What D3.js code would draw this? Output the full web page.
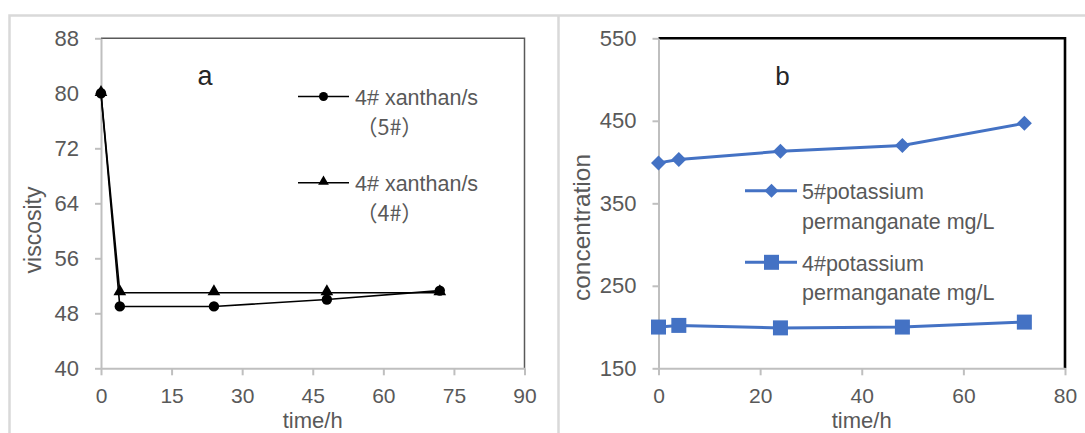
<!DOCTYPE html>
<html>
<head>
<meta charset="utf-8">
<script src="https://cdn.jsdelivr.net/npm/d3@7"></script>
<style>
  body { margin: 0; background: #fff; }
  svg { display: block; font-family: "Liberation Sans", Arial, "Noto Sans CJK SC", sans-serif; }
</style>
</head>
<body>
<svg id="chart" width="1085" height="433"></svg>
<script>
// ---- Data ----
const timeA = [0, 4, 24, 48, 72];
const xanthan5 = [80, 49, 49, 50, 51.3];
const xanthan4 = [80, 51, 51, 51, 51];
const xTicksA = [0, 15, 30, 45, 60, 75, 90];
const yTicksA = [40, 48, 56, 64, 72, 80, 88];

const timeB = [0, 4, 24, 48, 72];
const kmno5 = [399, 403, 413, 420, 447];
const kmno4 = [200, 202, 199, 200, 206];
const xTicksB = [0, 20, 40, 60, 80];
const yTicksB = [150, 250, 350, 450, 550];

const svg = d3.select("#chart");
const GRAY_TXT = "#595959";
const AXIS = "#bfbfbf";

// outer frames
svg.append("path")
  .attr("d", "M9.5,440 V15.5 H1090 M558.5,15.5 V440")
  .attr("fill", "none").attr("stroke", "#d9d9d9").attr("stroke-width", 2.5);

function drawAxes(g, x, y, xTicks, yTicks, frameColor, frameWidth) {
  const [x0, x1] = x.range();
  const [y0, y1] = y.range();
  g.append("path")
    .attr("d", `M${x0},${y1} H${x1} V${y0}`)
    .attr("fill", "none").attr("stroke", frameColor).attr("stroke-width", frameWidth);
  const xa = g.append("g").attr("transform", `translate(0,${y0})`)
    .call(d3.axisBottom(x).tickValues(xTicks).tickSize(7).tickSizeOuter(0).tickPadding(13));
  const ya = g.append("g").attr("transform", `translate(${x0},0)`)
    .call(d3.axisLeft(y).tickValues(yTicks).tickSize(6).tickSizeOuter(0).tickPadding(16));
  [xa, ya].forEach(a => {
    a.select(".domain").attr("stroke", AXIS).attr("stroke-width", 2);
    a.selectAll(".tick line").attr("stroke", AXIS).attr("stroke-width", 2);
    a.selectAll(".tick text").attr("fill", GRAY_TXT).attr("font-size", 22)
      .attr("font-family", "Liberation Sans, Arial, sans-serif");
  });
  xa.selectAll(".tick text").attr("font-size", 21).attr("dy", "0.71em");
}

// ---------------- Panel a ----------------
const xA = d3.scaleLinear().domain([0, 90]).range([101, 524.5]);
const yA = d3.scaleLinear().domain([40, 88]).range([368.3, 38.3]);
const gA = svg.append("g");
drawAxes(gA, xA, yA, xTicksA, yTicksA, "#595959", 1.5);

const lineA = d3.line().x(d => xA(d[0])).y(d => yA(d[1]));
const tri = d3.symbol().type(d3.symbolTriangle);

gA.append("path").datum(timeA.map((t, i) => [t, xanthan4[i]]))
  .attr("d", lineA).attr("fill", "none").attr("stroke", "#000").attr("stroke-width", 1.6);
gA.append("path").datum(timeA.map((t, i) => [t, xanthan5[i]]))
  .attr("d", lineA).attr("fill", "none").attr("stroke", "#000").attr("stroke-width", 1.6);
gA.selectAll(".tri").data(timeA.map((t, i) => [t, xanthan4[i]])).join("path")
  .attr("d", tri.size(70)())
  .attr("transform", d => `translate(${xA(d[0])},${yA(d[1]) - 1})`)
  .attr("fill", "#000");
gA.selectAll(".circ").data(timeA.map((t, i) => [t, xanthan5[i]])).join("circle")
  .attr("cx", d => xA(d[0])).attr("cy", d => yA(d[1])).attr("r", 5.2).attr("fill", "#000");

gA.append("text").attr("x", 205).attr("y", 85).attr("text-anchor", "middle")
  .attr("font-size", 27).attr("fill", "#262626").text("a");

const legA = [
  { y: 96.5, sym: "circle", l1: "4# xanthan/s", l2: "（5#）" },
  { y: 182.7, sym: "tri", l1: "4# xanthan/s", l2: "（4#）" }
];
legA.forEach(e => {
  gA.append("line").attr("x1", 298).attr("x2", 349).attr("y1", e.y).attr("y2", e.y)
    .attr("stroke", "#000").attr("stroke-width", 1.6);
  if (e.sym === "circle") {
    gA.append("circle").attr("cx", 323.5).attr("cy", e.y).attr("r", 4.5).attr("fill", "#000");
  } else {
    gA.append("path").attr("d", tri.size(50)()).attr("transform", `translate(323.5,${e.y - 1})`).attr("fill", "#000");
  }
  gA.append("text").attr("x", 355).attr("y", e.y + 8.5).attr("font-size", 21.5)
    .attr("fill", GRAY_TXT).text(e.l1);
  gA.append("text").attr("x", 356).attr("y", e.y + 38.5).attr("font-size", 21.5)
    .attr("font-family", "Noto Sans CJK SC, Liberation Sans, sans-serif")
    .attr("fill", GRAY_TXT).text(e.l2);
});

gA.append("text").attr("x", 312.7).attr("y", 428).attr("text-anchor", "middle")
  .attr("font-size", 22).attr("fill", GRAY_TXT).text("time/h");
gA.append("text").attr("transform", "translate(41,230) rotate(-90)").attr("text-anchor", "middle")
  .attr("font-size", 23).attr("fill", GRAY_TXT).text("viscosity");

// ---------------- Panel b ----------------
const xB = d3.scaleLinear().domain([0, 80]).range([658.5, 1065]);
const yB = d3.scaleLinear().domain([150, 550]).range([368.3, 38.3]);
const gB = svg.append("g");
drawAxes(gB, xB, yB, xTicksB, yTicksB, "#000", 2.6);

const BLUE = "#4472C4";
const lineB = d3.line().x(d => xB(d[0])).y(d => yB(d[1]));

gB.append("path").datum(timeB.map((t, i) => [t, kmno5[i]]))
  .attr("d", lineB).attr("fill", "none").attr("stroke", BLUE).attr("stroke-width", 3);
gB.append("path").datum(timeB.map((t, i) => [t, kmno4[i]]))
  .attr("d", lineB).attr("fill", "none").attr("stroke", BLUE).attr("stroke-width", 3);

function diamondPath(s) { return `M0,${-s} L${s},0 L0,${s} L${-s},0 Z`; }
gB.selectAll(".dia").data(timeB.map((t, i) => [t, kmno5[i]])).join("path")
  .attr("d", diamondPath(7.5))
  .attr("transform", d => `translate(${xB(d[0])},${yB(d[1])})`)
  .attr("fill", BLUE);
gB.selectAll(".sq").data(timeB.map((t, i) => [t, kmno4[i]])).join("rect")
  .attr("x", d => xB(d[0]) - 7.5).attr("y", d => yB(d[1]) - 7.5)
  .attr("width", 15).attr("height", 15).attr("fill", BLUE);

gB.append("text").attr("x", 782.5).attr("y", 85).attr("text-anchor", "middle")
  .attr("font-size", 26).attr("fill", "#262626").text("b");

const legB = [
  { y: 190.7, sym: "dia", l1: "5#potassium", l2: "permanganate mg/L" },
  { y: 262.3, sym: "sq", l1: "4#potassium", l2: "permanganate mg/L" }
];
legB.forEach(e => {
  gB.append("line").attr("x1", 745).attr("x2", 797).attr("y1", e.y).attr("y2", e.y)
    .attr("stroke", BLUE).attr("stroke-width", 3);
  if (e.sym === "dia") {
    gB.append("path").attr("d", diamondPath(7)).attr("transform", `translate(771.5,${e.y})`).attr("fill", BLUE);
  } else {
    gB.append("rect").attr("x", 764).attr("y", e.y - 7.5).attr("width", 15).attr("height", 15).attr("fill", BLUE);
  }
  gB.append("text").attr("x", 802).attr("y", e.y + 8.5).attr("font-size", 21.5)
    .attr("fill", GRAY_TXT).text(e.l1);
  gB.append("text").attr("x", 802).attr("y", e.y + 38).attr("font-size", 21.5)
    .attr("fill", GRAY_TXT).text(e.l2);
});

gB.append("text").attr("x", 861.7).attr("y", 428).attr("text-anchor", "middle")
  .attr("font-size", 22).attr("fill", GRAY_TXT).text("time/h");
gB.append("text").attr("transform", "translate(589.5,227.5) rotate(-90)").attr("text-anchor", "middle")
  .attr("font-size", 24.5).attr("fill", GRAY_TXT).text("concentration");
</script>
</body>
</html>
